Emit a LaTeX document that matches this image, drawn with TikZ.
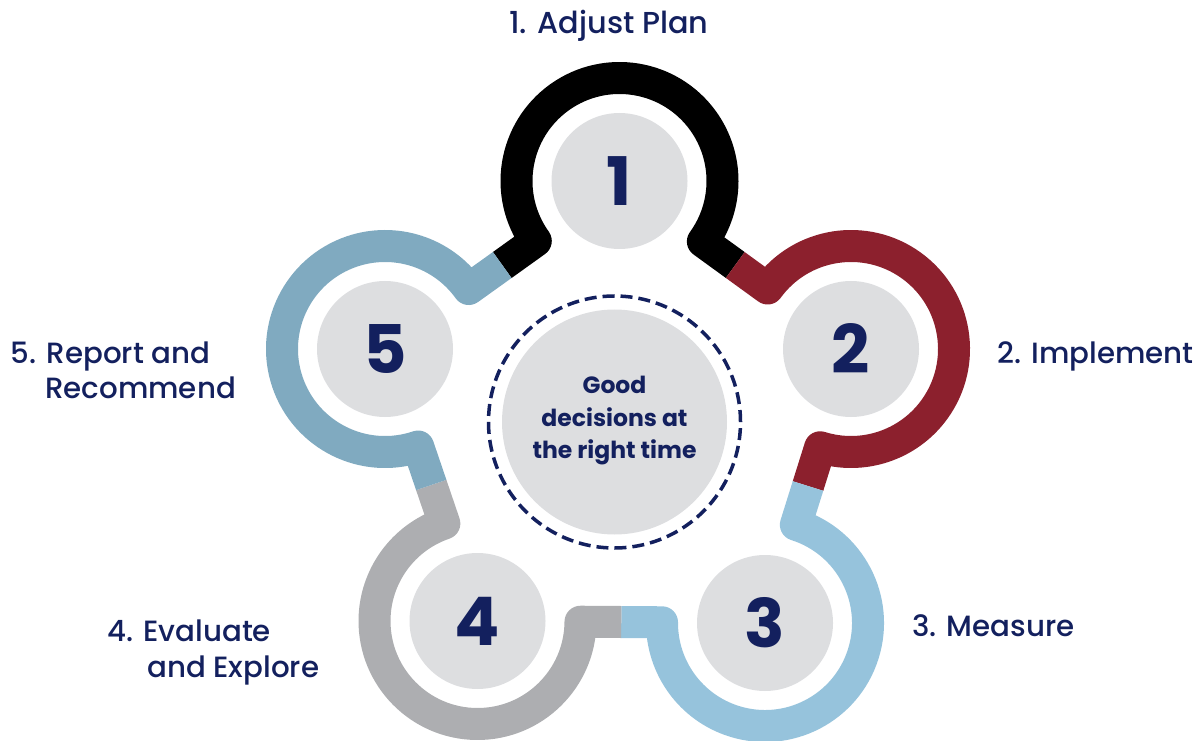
\documentclass[tikz,border=0pt]{standalone}
\usepackage{fontspec}
\setmainfont{Poppins}
\newfontfamily\medfont{Poppins Medium}
\usetikzlibrary{calc}
\definecolor{navy}{HTML}{13205E}
\definecolor{cblack}{HTML}{000000}
\definecolor{cred}{HTML}{8C202D}
\definecolor{clblue}{HTML}{96C3DC}
\definecolor{cgray}{HTML}{ADAEB1}
\definecolor{csteel}{HTML}{80AAC0}
\definecolor{disc}{HTML}{DDDEE0}
\tikzset{
  ring/.style={line width=32pt, line join=round, line cap=butt},
  smallc/.style={circle, fill=disc, minimum size=136pt, inner sep=0pt,
    text=navy, font=\fontsize{67}{67}\selectfont\bfseries},
  bigc/.style={circle, fill=disc, minimum size=225pt, inner sep=0pt},
  dashc/.style={circle, draw=navy, line width=3.5pt, dash pattern=on 12pt off 5.993pt,
    minimum size=252pt, inner sep=0pt},
  lbl/.style={text=navy, inner sep=0pt, font=\fontsize{29.3}{35}\selectfont\medfont},
  ctext/.style={text=navy, inner sep=0pt, font=\fontsize{23.5}{32.5}\selectfont\bfseries}
}
\begin{document}
\begin{tikzpicture}[x=1pt,y=1pt]
\useasboundingbox (0,0) rectangle (1201,740);
\coordinate (c1) at (619.5,559);
\coordinate (c2) at (851,391);
\coordinate (c3) at (765,117);
\coordinate (c4) at (477.5,119);
\coordinate (c5) at (385,391);
\coordinate (cm) at (614.5,318);
\coordinate (m12) at ($(c1)!0.5!(c2)$);
\coordinate (m23) at ($(c2)!0.5!(c3)$);
\coordinate (m34) at ($(c3)!0.5!(c4)$);
\coordinate (m45) at ($(c4)!0.5!(c5)$);
\coordinate (m51) at ($(c5)!0.5!(c1)$);
% ring segments
\draw[ring, cblack] (m51) -- ([shift={(215.62:103pt)}]c1)
  arc[start angle=215.62, delta angle=-251.59, radius=103pt] -- (m12);
\draw[ring, cred] (m12) -- ([shift={(144.03:103pt)}]c2)
  arc[start angle=144.03, delta angle=-251.46, radius=103pt] -- (m23);
\draw[ring, clblue] (m23) -- ([shift={(72.57:103pt)}]c3)
  arc[start angle=72.57, delta angle=-252.97, radius=103pt] -- (m34);
\draw[ring, cgray] (m34) -- ([shift={(-0.40:103pt)}]c4)
  arc[start angle=-0.40, delta angle=-250.82, radius=103pt] -- (m45);
\draw[ring, csteel] (m45) -- ([shift={(-71.22:103pt)}]c5)
  arc[start angle=-71.22, delta angle=-253.16, radius=103pt] -- (m51);
% circles
\node[smallc] (n1) at (c1) {1};
\node[smallc] (n2) at (c2) {2};
\node[smallc] (n3) at (c3) {3};
\node[smallc] (n4) at (c4) {4};
\node[smallc] (n5) at (c5) {5};
\node[dashc] (dc) at (cm) {};
\node[bigc] (bc) at (cm) {};
\node[ctext, anchor=base] (ct1) at (614.5,346.7) {Good};
\node[ctext, anchor=base] (ct2) at (614.5,314) {decisions at};
\node[ctext, anchor=base] (ct3) at (614.5,281.7) {the right time};
% labels
\node[lbl, anchor=base, font=\fontsize{30.3}{35}\selectfont\medfont] (l1) at (609,706.5) {1. Adjust Plan};
\node[lbl, anchor=base west] (l2) at (997,376.7) {2. Implement};
\node[lbl, anchor=base west] (l3) at (912,104) {3. Measure};
\node[lbl, anchor=base west] (l4a) at (107,99) {4. Evaluate};
\node[lbl, anchor=base west] (l4b) at (147,63) {and Explore};
\node[lbl, anchor=base west] (l5a) at (10.7,376.7) {5. Report and};
\node[lbl, anchor=base west] (l5b) at (45,341.7) {Recommend};
\end{tikzpicture}
\end{document}
